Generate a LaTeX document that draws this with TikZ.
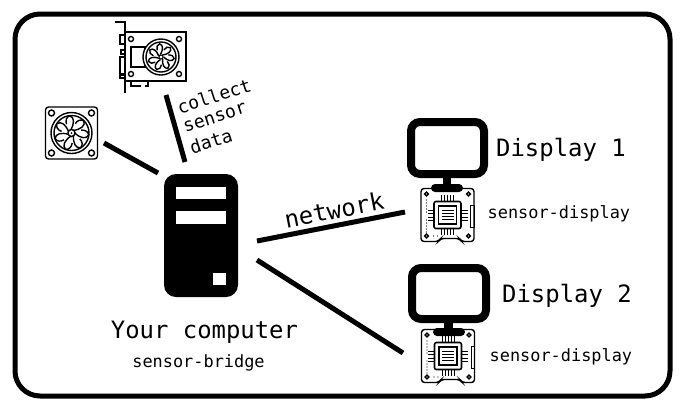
\documentclass[tikz,border=0pt]{standalone}
\usepackage{fontspec}
\setmonofont{DejaVu Sans Mono}
\tikzset{
  x=1pt,y=-1pt,
  frame/.style={draw=black,line width=5pt,rounded corners=25pt,fill=white},
  link/.style={draw=black,line width=5pt},
  tower/.style={fill=black,rounded corners=12pt},
  slot/.style={fill=white},
  screen/.style={draw=black,line width=8pt,rounded corners=9pt,fill=white},
  ico/.style={draw=black,line width=1.4pt},
  thin ico/.style={draw=black,line width=1pt},
  big/.style={font=\ttfamily\fontsize{23.9}{28}\selectfont,inner sep=0pt},
  mid/.style={font=\ttfamily\fontsize{18.1}{22}\selectfont,inner sep=0pt},
  small/.style={font=\ttfamily\fontsize{16.9}{20}\selectfont,inner sep=0pt},
  pics/blades/.style={code={
    \foreach \a in {0,51.4,...,350}{
      \draw[ico,rotate=\a] (0.1*#1,-0.15*#1) .. controls (0.55*#1,-0.2*#1) and (0.85*#1,-0.45*#1) .. (0.72*#1,-0.72*#1)
        .. controls (0.55*#1,-0.82*#1) and (0.35*#1,-0.75*#1) .. (0.22*#1,-0.55*#1);
    }
  }},
  pics/fanicon/.style={code={
    \draw[ico,rounded corners=3pt] (-26,-26) rectangle (26,26);
    \foreach \p in {(-20,-20),(20,-20),(-20,20),(20,20)} \draw[ico] \p circle (3);
    \draw[ico] (0,0) circle (20.5);
    \draw[ico] (0,0) circle (17.5);
    \pic {blades=17};
    \draw[ico,fill=white] (0,0) circle (3.5);
    \fill (0,0) circle (1);
  }},
  pics/gpuicon/.style={code={
    \draw[ico,line width=1.6pt] (-46,-35) -- (-36,-35) -- (-36,36);
    \draw[ico,line width=1.6pt] (-36,-25) -- (25,-25) -- (25,24) -- (-36,24);
    \foreach \p in {(-30,-18),(18,-18),(-30,17),(18,17)} \draw[ico] \p circle (2.5);
    \draw[ico] (-30,-10) rectangle (-16,10);
    \draw[ico,fill=white] (0,0) circle (18);
    \draw[ico] (0,0) circle (15);
    \pic {blades=13};
    \fill[white] (0,0) circle (2.5);
    \draw[thin ico] (0,0) circle (2);
    \draw[ico] (-36,-22) -- (-41,-22) -- (-41,-13) -- (-36,-13);
    \draw[ico] (-36,-7) -- (-40,-7) -- (-40,-3) -- (-36,-3);
    \draw[ico] (-36,0) -- (-41,0) -- (-41,17) -- (-36,17);
    \draw[ico] (-36,18) -- (-41,18) -- (-41,21) -- (-36,21);
    \draw[ico] (-30,24) -- (-30,29) -- (-20,29);
    \draw[ico] (-16,29) -- (-13,29) -- (-13,24);
  }},
  pics/boardicon/.style={code={
    \draw[ico,rounded corners=3pt] (-26.5,-26.5) -- (26.5,-26.5) -- (26.5,26.5) -- (14,26.5) -- (12,23.5) -- (-7,23.5) -- (-9,26.5) -- (-26.5,26.5) -- cycle;
    \foreach \p in {(-21,-21),(21,-21),(21,21),(-21,21)} \draw[ico] \p circle (1.8);
    \foreach \y in {-15,-12,...,-3} \fill (-21,\y) circle (0.6);
    \foreach \y in {5,8,...,17} \fill (-21,\y) circle (0.6);
    \fill (-14,21) circle (0.7); \fill (-10,21) circle (0.7);
    \draw[thin ico] (23,-10) rectangle (26.5,12);
    \draw[ico,line width=1.6pt,rounded corners=2pt] (-13.5,-13.5) rectangle (13.5,13.5);
    \draw[ico] (-9,-9) rectangle (9,9);
    \foreach \y in {-5,-2,1,4} \draw[thin ico] (-6,\y) -- (6,\y);
    \foreach \s in {-6,-3,0,3,6} {
      \draw[thin ico] (\s,-13.5) -- (\s,-20);
      \draw[thin ico] (\s,13.5) -- (\s,20);
    }
    \foreach \s in {-5,-2,2,5} {
      \draw[thin ico] (-13.5,\s) -- (-20,\s);
      \draw[thin ico] (13.5,\s) -- (20,\s);
    }
  }}
}
\begin{document}
\begin{tikzpicture}[x=1pt,y=-1pt]
\useasboundingbox (0,0) rectangle (680,408);
\fill[white] (0,0) rectangle (680,408);
\draw[frame] (15,14) rectangle (670,396);

% computer
\fill[tower] (164,174) rectangle (238,297);
\fill[slot] (176,187) rectangle (226,199);
\fill[slot] (176,211) rectangle (226,224);
\fill[slot] (213,273) rectangle (226,285);
\node[big] (lblComputer) at (204.5,332) {Your computer};
\node[small] (lblBridge) at (198.5,363) {sensor-bridge};

% peripherals
\pic at (71.5,133) {fanicon};
\pic at (161,57) {gpuicon};

% displays
\draw[screen] (411,122) rectangle (484,174);
\fill (443,176) rectangle (451,186);
\pic at (447.5,215) {boardicon};
\fill[rounded corners=4pt] (431,184) rectangle (463,192);
\node[big,anchor=west] (lblD1) at (496,150) {Display 1};
\node[small,anchor=west] (lblS1) at (487.5,214) {sensor-display};

\draw[screen] (412,268) rectangle (486,319);
\fill (444,321) rectangle (453,331);
\pic at (448,356) {boardicon};
\fill[rounded corners=4pt] (433,328) rectangle (465,336);
\node[big,anchor=west] (lblD2) at (502,296) {Display 2};
\node[small,anchor=west] (lblS2) at (489.5,357) {sensor-display};

% connectors
\coordinate (gpuEnd) at (166,95);
\coordinate (gpuComp) at (185,162);
\coordinate (fanEnd) at (104,143);
\coordinate (fanComp) at (158,173);
\coordinate (netComp) at (257,241);
\coordinate (netD1) at (405,212);
\coordinate (net2Comp) at (257,260);
\coordinate (netD2) at (403,353);
\draw[link] (gpuEnd) -- (gpuComp);
\draw[link] (fanEnd) -- (fanComp);
\draw[link] (netComp) -- (netD1);
\draw[link] (net2Comp) -- (netD2);

\node[big,rotate=11] (lblNet) at (334,210) {network};
\node[mid,rotate=18] (lblCollect) at (214,96) {collect};
\node[mid,rotate=18] (lblSensor) at (215,118) {sensor};
\node[mid,rotate=18] (lblData) at (211,141) {data};
\end{tikzpicture}
\end{document}
